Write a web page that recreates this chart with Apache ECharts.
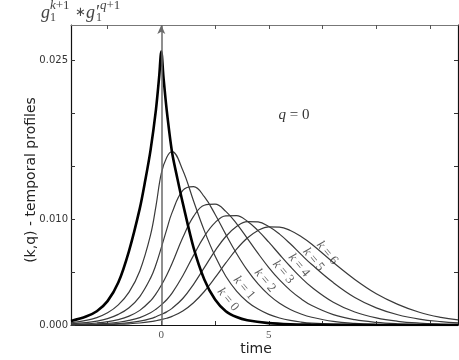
<!DOCTYPE html>
<html>
<head>
<meta charset="utf-8">
<script src="https://cdn.jsdelivr.net/npm/echarts@6/dist/echarts.min.js"></script>
<style>
  html, body { margin: 0; padding: 0; background: #fff; }
  #chart { width: 459px; height: 360px; }
</style>
</head>
<body>
<div id="chart"></div>
<script>
// k = 0 has its own samples, denser around the sharp peak at t = 0
const timeK0 = [-4.2, -3.5, -3, -2.5, -2, -1.5, -1, -0.75, -0.5, -0.25, -0.1, 0, 0.1, 0.25, 0.5, 0.75, 1, 1.5, 2, 2.5, 3, 3.5, 4, 5, 6, 7, 8, 10, 12, 13.8]
const profileK0 = [0.00038, 0.0008, 0.0013, 0.00225, 0.004, 0.007, 0.011, 0.0136, 0.0165, 0.0203, 0.0234, 0.0258, 0.0234, 0.0203, 0.0163, 0.0138, 0.0115, 0.0073, 0.0043, 0.0024, 0.0013, 0.00075, 0.00045, 0.00018, 0.00007, 0.00003, 0.000015, 0.000004, 0.000001, 0]

// shared samples for k = 1 .. 6
const time = [-4.2, -3.5, -3, -2.5, -2, -1.5, -1, -0.5, -0.25, 0, 0.25, 0.5, 1, 1.5, 2, 2.5, 3, 3.5, 4, 4.5, 5, 5.5, 6, 6.5, 7, 8, 9, 10, 11, 12, 13, 13.8]
const profileK1 = [0.00021, 0.00043, 0.0007, 0.00115, 0.0019, 0.0031, 0.0051, 0.0085, 0.0112, 0.0143, 0.0158, 0.01635, 0.0146, 0.0117, 0.0089, 0.0065, 0.0046, 0.0032, 0.0022, 0.0015, 0.001, 0.00066, 0.00043, 0.00028, 0.00018, 0.000077, 0.000031, 0.000013, 0.000005, 0.000002, 0.000001, 0.0000005]
const profileK2 = [0.00011, 0.00022, 0.00036, 0.0006, 0.001, 0.00163, 0.00268, 0.00442, 0.00568, 0.0073, 0.009, 0.0106, 0.0127, 0.01305, 0.0121, 0.01045, 0.00855, 0.00675, 0.00517, 0.00387, 0.00284, 0.00205, 0.00147, 0.00104, 0.00073, 0.00034, 0.00016, 0.000072, 0.000032, 0.000014, 0.000006, 0.000003]
const profileK3 = [0.000057, 0.000114, 0.000188, 0.00031, 0.00051, 0.00084, 0.00138, 0.00228, 0.00293, 0.00375, 0.0047, 0.0058, 0.00825, 0.01024, 0.0113, 0.0114, 0.01072, 0.00956, 0.00817, 0.00675, 0.00542, 0.00425, 0.00327, 0.00247, 0.00184, 0.00098, 0.0005, 0.00025, 0.00012, 0.000057, 0.000026, 0.000014]
const profileK4 = [0.000029, 0.000058, 0.000096, 0.000158, 0.00026, 0.00043, 0.0007, 0.00116, 0.00149, 0.0019, 0.00238, 0.003, 0.00465, 0.00657, 0.00836, 0.00966, 0.0103, 0.01031, 0.00979, 0.0089, 0.00781, 0.00665, 0.00552, 0.00447, 0.00356, 0.00215, 0.00123, 0.00067, 0.00035, 0.00018, 0.000091, 0.000051]
const profileK5 = [0.000015, 0.00003, 0.000049, 0.000082, 0.000135, 0.00022, 0.000365, 0.0006, 0.00078, 0.001, 0.00124, 0.00157, 0.0025, 0.00384, 0.00541, 0.007, 0.00835, 0.00929, 0.00975, 0.00972, 0.00929, 0.00857, 0.00766, 0.00666, 0.0057, 0.004, 0.0026, 0.00162, 0.00097, 0.00056, 0.00032, 0.0002]
const profileK6 = [0.0000075, 0.000015, 0.000025, 0.000042, 0.000069, 0.000114, 0.000187, 0.00031, 0.0004, 0.00051, 0.00064, 0.00081, 0.00132, 0.0021, 0.00316, 0.00446, 0.00585, 0.00715, 0.0082, 0.00892, 0.00926, 0.00924, 0.00892, 0.00835, 0.00762, 0.0059, 0.0043, 0.00295, 0.00195, 0.0012, 0.00072, 0.00048]

// curve labels k = 0 .. 6, placed along the falling flanks
const labelK = [0, 1, 2, 3, 4, 5, 6]
const labelTime = [3.1, 3.85, 4.82, 5.67, 6.4, 7.08, 7.72]
const labelValue = [0.0024, 0.0035, 0.0042, 0.005, 0.00563, 0.00617, 0.0068]

// axis ticks and the few labelled ticks
const xTicks = [-2.5, 0, 2.5, 5, 7.5, 10, 12.5]
const xLabels = [0, 5]
const yTicks = [0, 0.005, 0.01, 0.015, 0.02, 0.025]
const yLabels = [0, 0.01, 0.025]

const pairs = (xs, ys) => xs.map((x, i) => [x, ys[i]])

const serif = 'Liberation Serif'
const sans = 'DejaVu Sans'
const italic = (size, fill) => ({ fontFamily: serif, fontStyle: 'italic', fontSize: size, fill: fill })

const chart = echarts.init(document.getElementById('chart'))

const thinLine = (name, data) => ({
  name: name,
  type: 'line',
  data: data,
  smooth: 0.4,
  symbol: 'none',
  silent: true,
  z: 3,
  lineStyle: { color: '#3a3a3a', width: 1.2 }
})

chart.setOption({
  animation: false,
  grid: { left: 71, right: 1, top: 25, bottom: 35 },
  xAxis: [
    {
      type: 'value',
      min: -4.2,
      max: 13.8,
      splitLine: { show: false },
      axisLine: { onZero: false, lineStyle: { color: '#111', width: 1.2 } },
      axisTick: { inside: true, length: 4, customValues: xTicks, lineStyle: { color: '#333' } },
      axisLabel: {
        customValues: xLabels,
        margin: 5,
        fontFamily: serif,
        fontSize: 11,
        color: '#555'
      }
    },
    {
      type: 'value',
      position: 'top',
      min: -4.2,
      max: 13.8,
      splitLine: { show: false },
      axisLine: { onZero: false, lineStyle: { color: '#777', width: 1.2 } },
      axisTick: { inside: true, length: 4, customValues: xTicks, lineStyle: { color: '#555' } },
      axisLabel: { show: false }
    }
  ],
  yAxis: [
    {
      type: 'value',
      min: 0,
      max: 0.0283,
      splitLine: { show: false },
      axisLine: { show: true, onZero: false, lineStyle: { color: '#111', width: 1.2 } },
      axisTick: { show: true, inside: true, length: 4, customValues: yTicks, lineStyle: { color: '#333' } },
      axisLabel: {
        customValues: yLabels,
        margin: 3,
        fontFamily: sans,
        fontSize: 10,
        color: '#333',
        formatter: (v) => v.toFixed(3)
      }
    },
    {
      type: 'value',
      position: 'right',
      min: 0,
      max: 0.0283,
      splitLine: { show: false },
      axisLine: { show: true, onZero: false, lineStyle: { color: '#111', width: 1.2 } },
      axisTick: { show: true, inside: true, length: 4, customValues: yTicks, lineStyle: { color: '#333' } },
      axisLabel: { show: false }
    }
  ],
  series: [
    thinLine('k=1', pairs(time, profileK1)),
    thinLine('k=2', pairs(time, profileK2)),
    thinLine('k=3', pairs(time, profileK3)),
    thinLine('k=4', pairs(time, profileK4)),
    thinLine('k=5', pairs(time, profileK5)),
    thinLine('k=6', pairs(time, profileK6)),
    {
      name: 'k=0',
      type: 'line',
      data: pairs(timeK0, profileK0),
      smooth: 0.3,
      symbol: 'none',
      silent: true,
      z: 4,
      lineStyle: { color: '#000', width: 2.6 },
      markLine: {
        silent: true,
        symbol: ['none', 'arrow'],
        symbolSize: [6, 9],
        label: { show: false },
        lineStyle: { color: '#6a6a6a', width: 1.5, type: 'solid' },
        data: [{ xAxis: 0 }]
      }
    },
    {
      name: 'labels',
      type: 'scatter',
      silent: true,
      symbolSize: 0.1,
      itemStyle: { color: 'transparent' },
      z: 6,
      data: labelK.map((k, i) => [labelTime[i], labelValue[i], k]),
      label: {
        show: true,
        position: 'inside',
        rotate: -50,
        fontFamily: serif,
        fontSize: 13,
        color: '#333',
        formatter: (p) => '{i|k} = ' + p.value[2],
        rich: { i: { fontFamily: serif, fontStyle: 'italic', fontSize: 13, color: '#333' } }
      }
    }
  ],
  graphic: [
    {
      type: 'text', x: 294, y: 115,
      style: {
        text: '{i|q} = 0', align: 'center', verticalAlign: 'middle',
        fontFamily: serif, fontSize: 15, fill: '#333',
        rich: { i: italic(15, '#333') }
      }
    },
    { type: 'text', x: 41, y: 13, style: { text: 'g', fontFamily: serif, fontStyle: 'italic', fontSize: 18, fill: '#444', verticalAlign: 'middle' } },
    { type: 'text', x: 50, y: 18, style: { text: '1', fontFamily: serif, fontSize: 12, fill: '#444', verticalAlign: 'middle' } },
    { type: 'text', x: 50, y: 6, style: { text: '{i|k}+1', fontFamily: serif, fontSize: 13, fill: '#444', verticalAlign: 'middle', rich: { i: italic(13, '#444') } } },
    { type: 'text', x: 75, y: 13, style: { text: '\u2217', fontFamily: serif, fontSize: 13, fill: '#444', verticalAlign: 'middle' } },
    { type: 'text', x: 86, y: 13, style: { text: 'g\u2032', fontFamily: serif, fontStyle: 'italic', fontSize: 18, fill: '#444', verticalAlign: 'middle' } },
    { type: 'text', x: 96, y: 18, style: { text: '1', fontFamily: serif, fontSize: 12, fill: '#444', verticalAlign: 'middle' } },
    { type: 'text', x: 100, y: 6, style: { text: '{i|q}+1', fontFamily: serif, fontSize: 13, fill: '#444', verticalAlign: 'middle', rich: { i: italic(13, '#444') } } },
    {
      type: 'text', x: 31, y: 180, rotation: Math.PI / 2,
      style: { text: '(k,q) - temporal profiles', fontFamily: sans, fontSize: 14, fill: '#222', align: 'center', verticalAlign: 'middle' }
    },
    {
      type: 'text', x: 256, y: 349,
      style: { text: 'time', fontFamily: sans, fontSize: 14, fill: '#222', align: 'center', verticalAlign: 'middle' }
    }
  ]
})
</script>
</body>
</html>
